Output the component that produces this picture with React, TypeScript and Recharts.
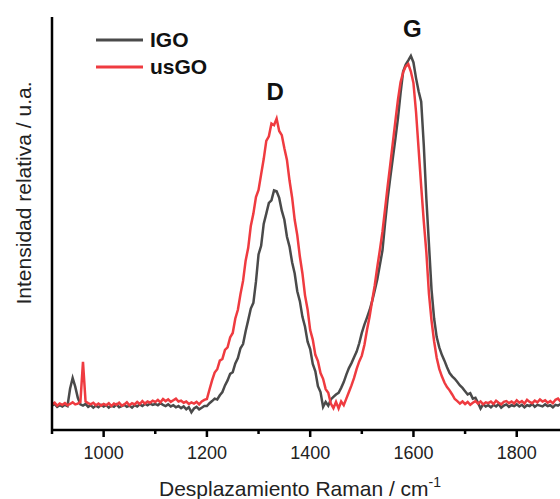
import { Legend, Line, LineChart, ReferenceDot, XAxis, YAxis } from "recharts";

const FONT = '"Liberation Sans", Arial, sans-serif';
const GRAY = "#4a4a4a";
const RED = "#ef3b40";

// Raman shift sampling grid (cm-1)
const wavenumbers = [
  900, 905, 910, 915, 920, 925, 930, 935, 940, 945,
  950, 955, 960, 965, 970, 975, 980, 985, 990, 995,
  1000, 1005, 1010, 1015, 1020, 1025, 1030, 1035, 1040, 1045,
  1050, 1055, 1060, 1065, 1070, 1075, 1080, 1085, 1090, 1095,
  1100, 1105, 1110, 1115, 1120, 1125, 1130, 1135, 1140, 1145,
  1150, 1155, 1160, 1165, 1170, 1175, 1180, 1185, 1190, 1195,
  1200, 1205, 1210, 1215, 1220, 1225, 1230, 1235, 1240, 1245,
  1250, 1255, 1260, 1265, 1270, 1275, 1280, 1285, 1290, 1295,
  1300, 1305, 1310, 1315, 1320, 1325, 1330, 1335, 1340, 1345,
  1350, 1355, 1360, 1365, 1370, 1375, 1380, 1385, 1390, 1395,
  1400, 1405, 1410, 1415, 1420, 1425, 1430, 1435, 1440, 1445,
  1450, 1455, 1460, 1465, 1470, 1475, 1480, 1485, 1490, 1495,
  1500, 1505, 1510, 1515, 1520, 1525, 1530, 1535, 1540, 1545,
  1550, 1555, 1560, 1565, 1570, 1575, 1580, 1585, 1590, 1595,
  1600, 1605, 1610, 1615, 1620, 1625, 1630, 1635, 1640, 1645,
  1650, 1655, 1660, 1665, 1670, 1675, 1680, 1685, 1690, 1695,
  1700, 1705, 1710, 1715, 1720, 1725, 1730, 1735, 1740, 1745,
  1750, 1755, 1760, 1765, 1770, 1775, 1780, 1785, 1790, 1795,
  1800, 1805, 1810, 1815, 1820, 1825, 1830, 1835, 1840, 1845,
  1850, 1855, 1860, 1865, 1870, 1875, 1880, 1885, 1890, 1895,
  1900,
];

const igo = [
  5.9, 6.3, 5.6, 6.0, 5.7, 6.1, 5.8, 10.0, 12.6, 10.5,
  7.8, 6.2, 5.9, 6.3, 5.6, 6.0, 5.4, 5.9, 5.5, 6.1,
  5.7, 6.0, 5.4, 5.9, 5.6, 6.2, 5.5, 5.8, 6.1, 5.6,
  5.9, 5.4, 6.0, 5.7, 6.2, 5.8, 6.3, 6.0, 6.4, 6.1,
  6.3, 6.0, 6.5, 6.1, 5.8, 6.2, 5.7, 6.0, 5.5, 5.8,
  5.3, 5.7, 5.0, 5.5, 4.3, 5.2, 5.6, 5.0, 5.4, 5.8,
  5.8, 6.5, 7.0, 7.6, 7.4, 8.4, 9.2, 10.8, 12.0, 13.6,
  14.0, 16.1, 17.4, 19.8, 20.8, 23.9, 26.6, 29.4, 30.8, 35.9,
  42.5, 44.6, 49.9, 52.4, 55.0, 55.6, 58.0, 57.8, 56.2, 53.1,
  50.9, 46.8, 44.4, 40.6, 37.9, 33.6, 31.2, 27.4, 25.0, 21.4,
  19.6, 16.0, 14.2, 10.6, 9.2, 5.6, 6.8, 5.9, 7.4, 8.0,
  8.6, 9.0, 10.2, 11.6, 13.4, 15.0, 16.2, 17.6, 19.0, 21.0,
  23.5, 25.5, 27.2, 29.0, 31.2, 33.8, 36.5, 40.0, 43.5, 50.0,
  56.0, 61.0, 65.8, 70.5, 75.5, 81.5, 86.8, 88.5, 89.5, 90.6,
  89.0, 85.2, 82.0, 79.5, 69.0, 56.0, 45.0, 34.0, 27.0, 22.5,
  20.0, 18.2, 16.8, 15.2, 13.8, 13.0, 12.4, 11.6, 10.8, 10.2,
  9.4, 8.6, 8.9, 7.6, 7.8, 6.6, 5.2, 6.2, 5.7, 6.0,
  5.5, 6.1, 5.7, 6.3, 5.4, 5.9, 6.2, 5.6, 6.0, 5.8,
  6.2, 5.7, 6.1, 5.5, 6.0, 5.8, 6.3, 5.6, 6.1, 5.9,
  5.7, 6.2, 5.8, 6.0, 5.5, 6.1, 5.9, 6.3, 5.7, 6.0,
  5.9,
];

const usgo = [
  6.2, 6.6, 5.9, 6.4, 6.1, 6.5, 6.0, 6.3, 6.7, 6.2,
  6.4, 6.8, 16.5, 6.9, 6.5, 6.2, 6.6, 6.0, 6.4, 5.9,
  6.3, 6.0, 6.5, 5.8, 6.4, 6.1, 6.6, 5.9, 6.2, 6.7,
  6.0, 6.5, 6.2, 6.8, 6.3, 7.0, 6.4, 6.9, 6.6, 7.1,
  6.8, 7.3, 6.7, 7.5, 7.0, 7.4, 6.8, 7.2, 7.6, 6.9,
  7.1, 6.6, 6.9, 6.3, 6.7, 6.4, 6.8, 6.2, 6.9, 7.3,
  7.5, 9.8, 12.0, 13.9, 14.7, 16.8, 17.2, 19.4, 20.0, 22.4,
  23.5, 27.0, 29.1, 32.9, 36.1, 41.0, 44.1, 49.4, 52.4, 56.4,
  58.1, 61.9, 65.6, 70.0, 71.1, 74.2, 73.8, 75.4, 72.4, 71.4,
  68.2, 65.4, 60.4, 56.3, 50.9, 47.2, 42.0, 37.9, 32.6, 29.2,
  24.2, 21.9, 18.2, 16.7, 13.8, 12.4, 9.9, 9.0, 6.4, 5.3,
  6.8, 5.2, 6.9, 6.0, 7.6, 9.2, 10.8, 12.6, 14.8, 16.6,
  18.0, 20.6, 24.2, 27.4, 31.3, 35.0, 39.5, 43.6, 48.0, 53.5,
  59.0, 64.2, 69.5, 74.8, 80.0, 84.2, 86.6, 88.0, 88.6, 86.8,
  84.0, 77.0, 68.0, 59.0, 50.5, 43.0, 33.0, 26.5, 21.5, 17.5,
  14.8, 13.0, 11.5, 10.4, 9.6, 8.6, 7.5, 7.0, 6.4, 6.9,
  6.3, 6.8, 6.1, 6.6, 7.0, 6.4, 6.9, 6.2, 6.7, 6.5,
  6.9, 6.3, 7.1, 6.6, 6.2, 6.8, 7.0, 6.5, 6.9, 6.4,
  7.2, 6.6, 7.0, 6.4, 7.3, 6.8, 6.5, 7.1, 6.7, 7.4,
  6.9, 7.2, 6.6, 7.0, 6.5, 7.3, 7.6, 6.9, 7.8, 7.4,
  7.5,
];

const majorTicks = [1000, 1200, 1400, 1600, 1800];
const minorTicks = [900, 1100, 1300, 1500, 1700, 1900];
const allTicks = [...minorTicks, ...majorTicks].sort((a, b) => a - b);

// peak annotations: band name, shift, intensity where the label sits
const peakNames = ["D", "G"];
const peakShifts = [1332, 1598];
const peakHeights = [78.7, 93.9];

const data = wavenumbers.map((w, i) => ({ w, igo: igo[i], usgo: usgo[i] }));

function AxisTick(props: any) {
  const { x, y, payload } = props;
  const major = majorTicks.includes(payload.value);
  return (
    <g>
      <line x1={x} x2={x} y1={y} y2={y + (major ? 7 : 4)} stroke="#000" strokeWidth={2.5} />
      {major ? (
        <text x={x} y={y + 29} textAnchor="middle" fontFamily={FONT} fontSize={18} fill="#222">
          {payload.value}
        </text>
      ) : null}
    </g>
  );
}

function XTitle(props: any) {
  const { viewBox } = props;
  return (
    <text x={viewBox.x + 248} y={viewBox.y + 66} textAnchor="middle" fontFamily={FONT} fontSize={21} fill="#222">
      Desplazamiento Raman / cm
      <tspan fontSize={14} dy={-9}>-1</tspan>
    </text>
  );
}

function YTitle(props: any) {
  const { viewBox } = props;
  const cx = viewBox.x - 19;
  const cy = 193;
  return (
    <text
      x={cx}
      y={cy}
      transform={`rotate(-90, ${cx}, ${cy})`}
      textAnchor="middle"
      fontFamily={FONT}
      fontSize={21}
      fill="#222"
    >
      Intensidad relativa / u.a.
    </text>
  );
}

function LegendBox(props: any) {
  const items = props.payload || [];
  return (
    <div style={{ fontFamily: FONT }}>
      {items.map((item: any) => (
        <div key={item.value} style={{ display: "flex", alignItems: "center", height: 27 }}>
          <svg width={47} height={4} style={{ display: "block" }}>
            <line x1={0} x2={47} y1={2} y2={2} stroke={item.color} strokeWidth={3} />
          </svg>
          <span style={{ marginLeft: 7, fontSize: 21, fontWeight: 700, color: "#111", lineHeight: "27px" }}>
            {item.value}
          </span>
        </div>
      ))}
    </div>
  );
}

export default function App() {
  return (
    <div
      style={{
        position: "fixed",
        top: 0,
        left: 0,
        width: 560,
        height: 499,
        overflow: "hidden",
        background: "#fff",
      }}
    >
      <LineChart width={620} height={499} data={data} margin={{ top: 17, right: 0, bottom: 0, left: 50 }}>
        <XAxis
          dataKey="w"
          type="number"
          domain={[900, 2000]}
          ticks={allTicks}
          interval={0}
          allowDataOverflow
          height={69}
          tickSize={0}
          tickMargin={0}
          tickLine={false}
          tick={<AxisTick />}
          axisLine={{ stroke: "#000", strokeWidth: 2.5 }}
          label={<XTitle />}
        />
        <YAxis
          type="number"
          domain={[0, 100]}
          width={2}
          tick={false}
          tickLine={false}
          axisLine={{ stroke: "#000", strokeWidth: 2.5 }}
          label={<YTitle />}
        />
        <Legend
          layout="horizontal"
          align="center"
          verticalAlign="middle"
          content={<LegendBox />}
          wrapperStyle={{ left: 96, top: 26, width: "auto" }}
        />
        <Line
          dataKey="igo"
          name="IGO"
          stroke={GRAY}
          strokeWidth={2.5}
          dot={false}
          type="linear"
          isAnimationActive={false}
        />
        <Line
          dataKey="usgo"
          name="usGO"
          stroke={RED}
          strokeWidth={2.5}
          dot={false}
          type="linear"
          isAnimationActive={false}
        />
        {peakNames.map((name, i) => (
          <ReferenceDot
            key={name}
            x={peakShifts[i]}
            y={peakHeights[i]}
            r={0}
            fill="none"
            stroke="none"
            label={{ value: name, position: "top", offset: 5, fontFamily: FONT, fontSize: 24, fontWeight: 700, fill: "#111" }}
          />
        ))}
      </LineChart>
    </div>
  );
}
